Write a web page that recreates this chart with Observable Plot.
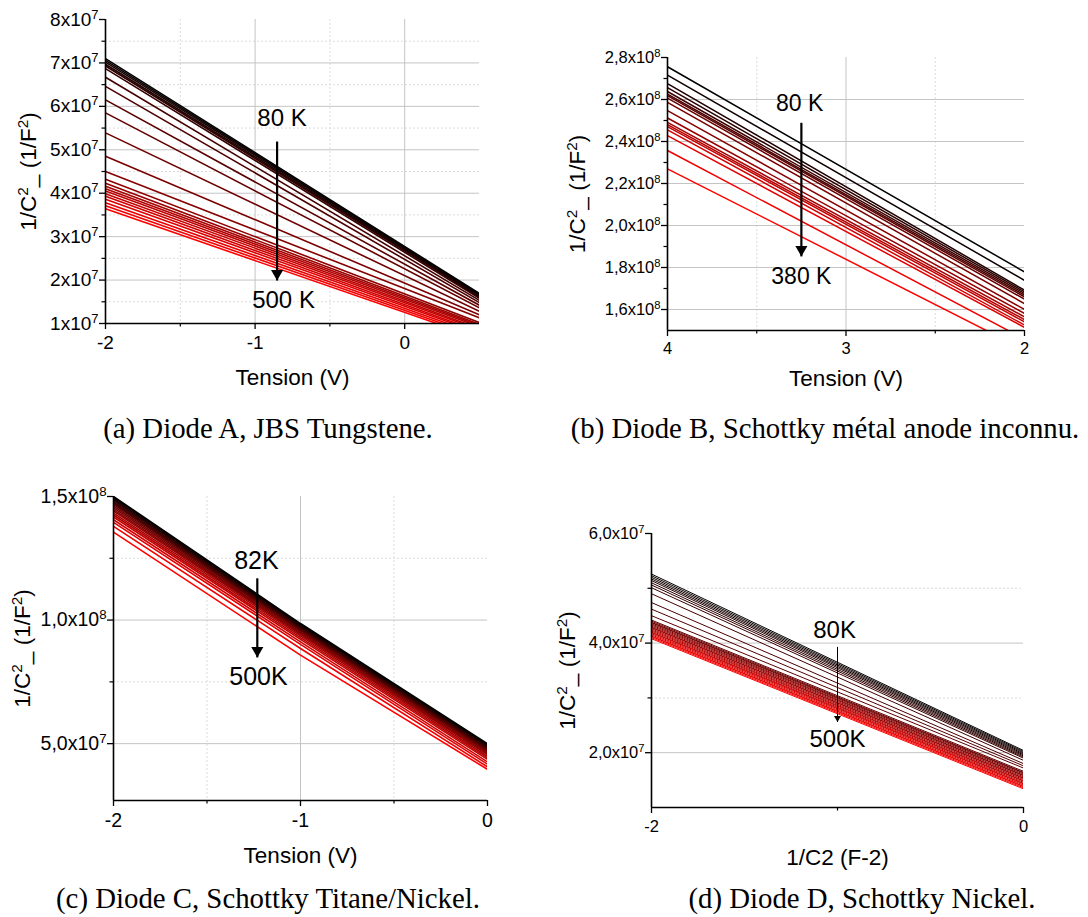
<!DOCTYPE html>
<html><head><meta charset="utf-8">
<script src="https://cdn.jsdelivr.net/npm/d3@7"></script>
<script src="https://cdn.jsdelivr.net/npm/@observablehq/plot@0.6"></script>
<style>
body{margin:0;background:#fff}
#fig{position:relative;width:1088px;height:917px;overflow:hidden;background:#fff}
.p{position:absolute}
.cap{position:absolute;font-family:'Liberation Serif','Times New Roman',serif;font-size:28.8px;line-height:28px;white-space:nowrap;text-align:center;width:600px;color:#000}
</style></head>
<body><div id="fig"></div>
<script>
// ---------- Panel A : Diode A, JBS Tungstene ----------
const aTension = [-2, 0.5];
const aStart = [7.10e7,7.06e7,7.02e7,6.97e7,6.93e7,6.87e7,6.67e7,6.46e7,6.15e7,5.85e7,5.39e7,4.85e7,4.50e7,4.32e7,4.23e7,4.16e7,4.10e7,4.05e7,3.99e7,3.93e7,3.86e7,3.78e7,3.71e7,3.64e7];
const aEnd   = [1.69e7,1.67e7,1.65e7,1.63e7,1.61e7,1.58e7,1.53e7,1.48e7,1.42e7,1.36e7,1.28e7,1.20e7,1.13e7,1.02e7,0.98e7,0.95e7,0.92e7,0.88e7,0.85e7,0.81e7,0.78e7,0.74e7,0.70e7,0.66e7];
const aYTicks = [1e7,2e7,3e7,4e7,5e7,6e7,7e7,8e7];
const aYLabels = ["1x10^7","2x10^7","3x10^7","4x10^7","5x10^7","6x10^7","7x10^7","8x10^7"];
const aYMinor = [1.5e7,2.5e7,3.5e7,4.5e7,5.5e7,6.5e7,7.5e7];
const aXTicks = [-2,-1,0];
const aXLabels = ["-2","-1","0"];
const aXMinor = [-1.5,-0.5];
const aNotes = [{x:-0.82,y:5.72e7,text:"80 K"},{x:-0.81,y:1.53e7,text:"500 K"}];
const aArrow = {x:-0.853,y1:5.19e7,y2:1.99e7};

// ---------- Panel B : Diode B ----------
const bTension = [4, 2];
const bStart = [2.756e8,2.716e8,2.676e8,2.657e8,2.638e8,2.626e8,2.618e8,2.607e8,2.586e8,2.547e8,2.512e8,2.491e8,2.480e8,2.471e8,2.455e8,2.428e8,2.357e8,2.270e8];
const bEnd   = [1.779e8,1.739e8,1.692e8,1.684e8,1.676e8,1.668e8,1.660e8,1.649e8,1.628e8,1.600e8,1.581e8,1.565e8,1.552e8,1.541e8,1.526e8,1.515e8,1.459e8,1.408e8];
const bYTicks = [1.6e8,1.8e8,2.0e8,2.2e8,2.4e8,2.6e8,2.8e8];
const bYLabels = ["1,6x10^8","1,8x10^8","2,0x10^8","2,2x10^8","2,4x10^8","2,6x10^8","2,8x10^8"];
const bYMinor = [1.7e8,1.9e8,2.1e8,2.3e8,2.5e8,2.7e8];
const bXTicks = [4,3,2];
const bXLabels = ["4","3","2"];
const bXMinor = [3.5,2.5];
const bNotes = [{x:3.26,y:2.58e8,text:"80 K"},{x:3.25,y:1.758e8,text:"380 K"}];
const bArrow = {x:3.25,y1:2.489e8,y2:1.853e8};

// ---------- Panel C : Diode C ----------
const cTension = [-2, -1, 0];
const cAtM2 = [1.500e8,1.495e8,1.489e8,1.484e8,1.478e8,1.473e8,1.468e8,1.461e8,1.454e8,1.447e8,1.441e8,1.433e8,1.425e8,1.417e8,1.406e8,1.395e8,1.379e8,1.356e8];
const cAtM1 = [0.986e8,0.982e8,0.978e8,0.974e8,0.970e8,0.966e8,0.962e8,0.957e8,0.952e8,0.947e8,0.942e8,0.936e8,0.929e8,0.922e8,0.912e8,0.902e8,0.885e8,0.858e8];
const cAt0  = [0.500e8,0.496e8,0.492e8,0.488e8,0.484e8,0.480e8,0.476e8,0.472e8,0.467e8,0.461e8,0.456e8,0.449e8,0.442e8,0.436e8,0.426e8,0.417e8,0.406e8,0.396e8];
const cYTicks = [5e7,1e8,1.5e8];
const cYLabels = ["5,0x10^7","1,0x10^8","1,5x10^8"];
const cYMinor = [7.5e7,1.25e8];
const cXTicks = [-2,-1,0];
const cXLabels = ["-2","-1","0"];
const cXMinor = [-1.5,-0.5];
const cNotes = [{x:-1.236,y:1.241e8,text:"82K"},{x:-1.225,y:0.768e8,text:"500K"}];
const cArrow = {x:-1.231,y1:1.169e8,y2:0.849e8};

// ---------- Panel D : Diode D ----------
const dTension = [-2, 0];
const dStart = [5.26e7,5.23e7,5.20e7,5.17e7,5.14e7,5.10e7,5.06e7,5.01e7,4.90e7,4.74e7,4.62e7,4.50e7,4.42e7,4.40e7,4.38e7,4.37e7,4.35e7,4.33e7,4.31e7,4.29e7,4.28e7,4.26e7,4.24e7,4.22e7,4.20e7,4.19e7,4.17e7,4.15e7,4.13e7,4.12e7,4.10e7,4.08e7];
const dEnd   = [2.04e7,2.02e7,2.00e7,1.98e7,1.96e7,1.94e7,1.92e7,1.90e7,1.86e7,1.80e7,1.76e7,1.72e7,1.66e7,1.64e7,1.63e7,1.61e7,1.59e7,1.58e7,1.56e7,1.54e7,1.53e7,1.51e7,1.49e7,1.48e7,1.46e7,1.44e7,1.43e7,1.41e7,1.39e7,1.38e7,1.36e7,1.34e7];
const dYTicks = [2e7,4e7,6e7];
const dYLabels = ["2,0x10^7","4,0x10^7","6,0x10^7"];
const dYMinor = [3e7,5e7];
const dXTicks = [-2,0];
const dXLabels = ["-2","0"];
const dXMinor = [-1];
const dNotes = [{x:-1.016,y:4.23e7,text:"80K"},{x:-1.0,y:2.24e7,text:"500K"}];
const dArrow = {x:-1.0,y1:3.93e7,y2:2.56e7};

const captions = [
  {text:"(a) Diode A, JBS Tungstene.", cx:268, top:414},
  {text:"(b) Diode B, Schottky métal anode inconnu.", cx:825, top:414},
  {text:"(c) Diode C, Schottky Titane/Nickel.", cx:268, top:884},
  {text:"(d) Diode D, Schottky Nickel.", cx:862, top:884}
];

// ---------------------------------------------------------
const FONT = "'Liberation Sans', Arial, Helvetica, sans-serif";
const SVGNS = "http://www.w3.org/2000/svg";
const ramp = d3.interpolateRgb("#000000", "#ff0000");

function supify(root) {
  root.querySelectorAll("text, tspan").forEach(el => {
    if (el.children.length) return;
    const s = el.textContent;
    if (!s.includes("^")) return;
    el.textContent = "";
    const re = /\^(.)/g; let last = 0, m;
    while ((m = re.exec(s))) {
      if (m.index > last) el.appendChild(document.createTextNode(s.slice(last, m.index)));
      const ts = document.createElementNS(SVGNS, "tspan");
      ts.setAttribute("baseline-shift", "super");
      ts.setAttribute("style", "font-size:0.68em");
      ts.textContent = m[1];
      el.appendChild(ts);
      last = re.lastIndex;
    }
    if (last < s.length) el.appendChild(document.createTextNode(s.slice(last)));
  });
}

function panel(c) {
  const n = c.curves.length;
  const yfmt = new Map(c.yTicks.map((t, i) => [t, c.yLabels[i]]));
  const xfmt = new Map(c.xTicks.map((t, i) => [t, c.xLabels[i]]));
  const marks = [
    Plot.ruleY(c.gridYMinor, {stroke: "#dcdcdc", strokeDasharray: "2,2"}),
    Plot.ruleX(c.gridXMinor, {stroke: "#dcdcdc", strokeDasharray: "2,2"}),
    Plot.ruleY(c.gridY, {stroke: "#c4c4c4"}),
    Plot.ruleX(c.gridX, {stroke: "#c4c4c4"})
  ];
  for (let i = n - 1; i >= 0; i--) {
    const pts = c.xs.map((x, j) => [x, c.curves[i][j]]);
    marks.push(Plot.line(pts, {stroke: ramp(n === 1 ? 0 : i / (n - 1)), strokeWidth: c.lw, clip: true}));
  }
  marks.push(
    Plot.ruleX([c.xLeft], {stroke: "black", strokeWidth: 1.6}),
    Plot.ruleY([c.yDomain[0]], {stroke: "black", strokeWidth: 1.6}),
    Plot.axisX({ticks: c.xTicks, tickFormat: d => xfmt.get(d), tickSize: 6, tickPadding: c.xPad, label: null, fontSize: c.tickFont, strokeWidth: 1.3}),
    Plot.axisX({ticks: c.xMinor, tickFormat: () => "", tickSize: 3.5, label: null, strokeWidth: 1.2}),
    Plot.axisY({ticks: c.yTicks, tickFormat: d => yfmt.get(d), tickSize: 6, tickPadding: 1, label: null, fontSize: c.tickFont, strokeWidth: 1.3}),
    Plot.axisY({ticks: c.yMinor, tickFormat: () => "", tickSize: 3.5, label: null, strokeWidth: 1.2}),
    Plot.text([c.xTitle], {frameAnchor: "bottom", dy: c.xTitleDy, text: d => d, fontSize: 22.5, lineAnchor: "middle"}),
    Plot.text([c.yTitle], {frameAnchor: "left", dx: -c.yTitleDx, text: d => d, fontSize: 22.5, rotate: -90, lineAnchor: "middle", textAnchor: "middle"}),
    Plot.link([c.arrow], {x1: "x", x2: "x", y1: "y1", y2: "y2", stroke: "black", strokeWidth: c.arrowW}),
    Plot.dot([c.arrow], {x: "x", y: "y2", symbol: "triangle", r: c.headR, fill: "black", stroke: "none", rotate: 180, dy: -c.headR * 1.55}),
    Plot.text(c.notes, {x: "x", y: "y", text: "text", fontSize: c.noteFont, lineAnchor: "middle", textAnchor: "middle"})
  );
  const svg = Plot.plot({
    width: c.width, height: c.height,
    marginLeft: c.ml, marginRight: c.mr, marginTop: c.mt, marginBottom: c.mb,
    style: {fontFamily: FONT, fontSize: c.tickFont + "px", background: "transparent", color: "black", overflow: "visible"},
    x: {domain: c.xDomain, reverse: !!c.xReverse},
    y: {domain: c.yDomain},
    marks
  });
  supify(svg);
  svg.classList.add("p");
  svg.style.left = c.left + "px";
  svg.style.top = c.top + "px";
  return svg;
}

const fig = document.getElementById("fig");
const zip2 = (a, b) => a.map((v, i) => [v, b[i]]);
const zip3 = (a, b, c) => a.map((v, i) => [v, b[i], c[i]]);

fig.appendChild(panel({
  left: 0, top: 0, width: 520, height: 400, ml: 105, mr: 41, mt: 19, mb: 77,
  xDomain: [-2, 0.5], xLeft: -2, yDomain: [1e7, 8e7],
  xs: aTension, curves: zip2(aStart, aEnd), lw: 1.6,
  gridY: [2e7,3e7,4e7,5e7,6e7,7e7], gridYMinor: aYMinor, gridX: [-1, 0], gridXMinor: aXMinor,
  yTicks: aYTicks, yLabels: aYLabels, yMinor: aYMinor, xTicks: aXTicks, xLabels: aXLabels, xMinor: aXMinor,
  tickFont: 19, xPad: 6, xTitle: "Tension (V)", xTitleDy: 54, yTitle: "1/C^2_ (1/F^2)", yTitleDx: 77,
  notes: aNotes, arrow: aArrow, noteFont: 24, arrowW: 2.2, headR: 4.5
}));

fig.appendChild(panel({
  left: 540, top: 0, width: 548, height: 400, ml: 127, mr: 64, mt: 57, mb: 70,
  xDomain: [2, 4], xReverse: true, xLeft: 4, yDomain: [1.5e8, 2.8e8],
  xs: bTension, curves: zip2(bStart, bEnd), lw: 1.5,
  gridY: [1.6e8,1.8e8,2.0e8,2.2e8,2.4e8,2.6e8], gridYMinor: [], gridX: [3], gridXMinor: bXMinor,
  yTicks: bYTicks, yLabels: bYLabels, yMinor: bYMinor, xTicks: bXTicks, xLabels: bXLabels, xMinor: bXMinor,
  tickFont: 16.5, xPad: 6, xTitle: "Tension (V)", xTitleDy: 48, yTitle: "1/C^2_ (1/F^2)", yTitleDx: 90,
  notes: bNotes, arrow: bArrow, noteFont: 23, arrowW: 2.2, headR: 4.5
}));

fig.appendChild(panel({
  left: 0, top: 460, width: 540, height: 420, ml: 113, mr: 53, mt: 36, mb: 80,
  xDomain: [-2, 0], xLeft: -2, yDomain: [2.7e7, 1.5e8],
  xs: cTension, curves: zip3(cAtM2, cAtM1, cAt0), lw: 1.6,
  gridY: [5e7, 1e8], gridYMinor: cYMinor, gridX: [-1], gridXMinor: cXMinor,
  yTicks: cYTicks, yLabels: cYLabels, yMinor: cYMinor, xTicks: cXTicks, xLabels: cXLabels, xMinor: cXMinor,
  tickFont: 19.5, xPad: 7, xTitle: "Tension (V)", xTitleDy: 55, yTitle: "1/C^2_ (1/F^2)", yTitleDx: 91,
  notes: cNotes, arrow: cArrow, noteFont: 25, arrowW: 2.2, headR: 4.5
}));

fig.appendChild(panel({
  left: 540, top: 460, width: 548, height: 420, ml: 111, mr: 65, mt: 73, mb: 73,
  xDomain: [-2, 0], xLeft: -2, yDomain: [1e7, 6e7],
  xs: dTension, curves: zip2(dStart, dEnd), lw: 1.0,
  gridY: [2e7, 4e7], gridYMinor: dYMinor, gridX: [], gridXMinor: [],
  yTicks: dYTicks, yLabels: dYLabels, yMinor: dYMinor, xTicks: dXTicks, xLabels: dXLabels, xMinor: dXMinor,
  tickFont: 16.5, xPad: 7, xTitle: "1/C2 (F-2)", xTitleDy: 50, yTitle: "1/C^2_ (1/F^2)", yTitleDx: 84,
  notes: dNotes, arrow: dArrow, noteFont: 24, arrowW: 1.0, headR: 2.6
}));

for (const c of captions) {
  const d = document.createElement("div");
  d.className = "cap";
  d.textContent = c.text;
  d.style.left = (c.cx - 300) + "px";
  d.style.top = c.top + "px";
  fig.appendChild(d);
}
</script>
</body></html>
